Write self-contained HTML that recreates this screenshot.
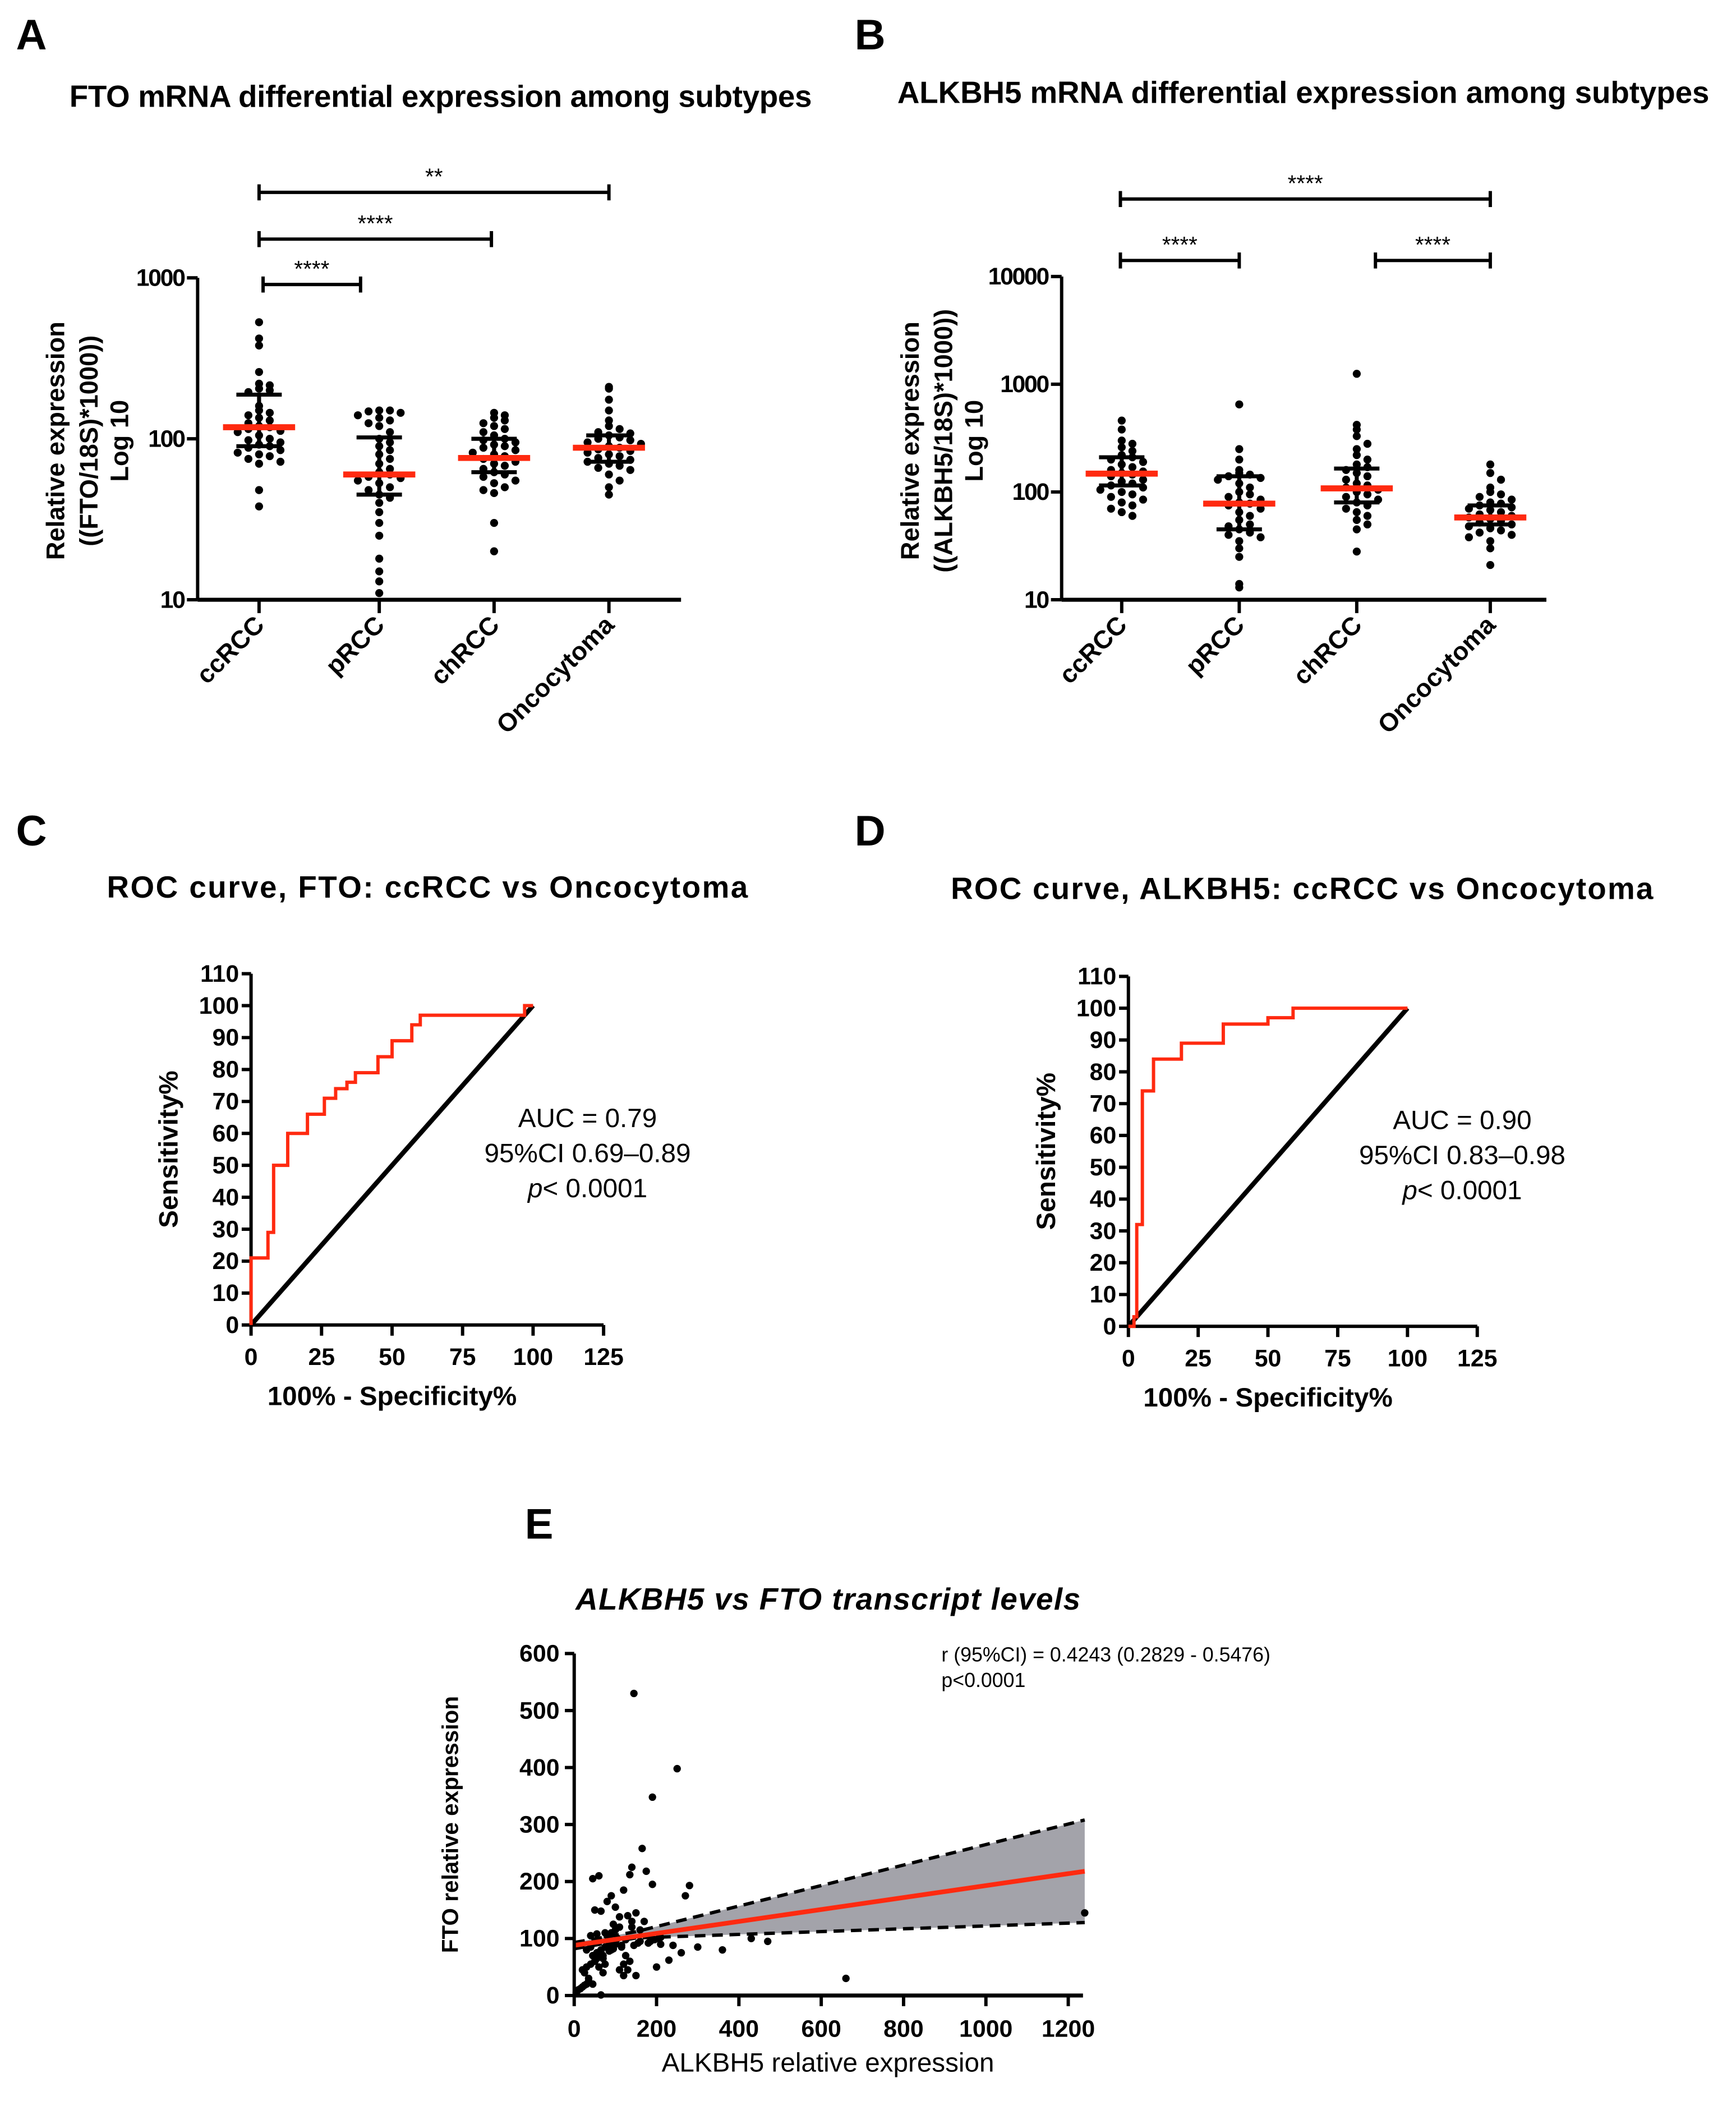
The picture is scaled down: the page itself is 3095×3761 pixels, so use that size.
<!DOCTYPE html>
<html><head><meta charset="utf-8"><style>
html,body{margin:0;padding:0;background:#fff}
svg{display:block}
text{font-family:"Liberation Sans",Arial,sans-serif}
</style></head><body>
<svg id="fig" xmlns="http://www.w3.org/2000/svg" width="3095" height="3761" viewBox="0 0 1300 1579.7">
<rect width="1300" height="1580" fill="#fff"/>
<g font-weight="bold" font-size="32">
<text x="12" y="37">A</text>
<text x="640" y="37">B</text>
<text x="12" y="633">C</text>
<text x="640" y="633">D</text>
<text x="393" y="1152">E</text>
</g>
<g font-weight="bold" font-size="23" text-anchor="middle">
<text x="330" y="80" textLength="556">FTO mRNA differential expression among subtypes</text>
<text x="976" y="77" textLength="608">ALKBH5 mRNA differential expression among subtypes</text>
<text x="320" y="672" textLength="480">ROC curve, FTO: ccRCC vs Oncocytoma</text>
<text x="975" y="673" textLength="526">ROC curve, ALKBH5: ccRCC vs Oncocytoma</text>
<text x="620" y="1205" font-style="italic" textLength="378">ALKBH5 vs FTO transcript levels</text>
</g>
<g id="A"></g><g id="B"></g><g id="C"></g><g id="D"></g><g id="E"></g>
</svg>
<script>
// ---- data ----
const cats=["ccRCC","pRCC","chRCC","Oncocytoma"];
const fto_cc=[530,420,380,260,220,215,205,200,195,160,150,145,140,135,130,125,120,118,115,112,110,105,100,98,95,92,90,88,85,82,80,78,75,72,70,48,38];
const fto_p=[150,150,148,145,140,135,130,125,120,110,100,95,90,85,80,75,70,65,62,60,58,57,55,53,50,48,45,43,40,35,30,25,18,15,13,11];
const fto_ch=[145,140,135,130,125,120,115,110,105,100,98,95,92,90,88,85,82,80,78,75,72,70,68,65,62,60,58,55,53,50,48,46,30,20];
const fto_on=[210,205,175,150,130,120,115,110,108,105,102,100,98,95,93,90,88,86,84,82,80,78,76,74,72,70,68,66,64,60,55,50,45];
const fto_med=[118,60,76,88];
const fto_lo=[90,45,62,72];
const fto_hi=[188,102,100,105];
const alk_cc=[460,380,300,280,260,240,220,210,200,190,180,170,160,155,150,145,140,130,125,120,115,110,105,100,95,90,85,80,75,70,65,60];
const alk_p=[650,250,200,160,150,145,140,135,130,120,110,100,95,90,85,80,78,75,70,65,60,55,50,48,45,42,40,38,35,30,25,14,13];
const alk_ch=[1250,420,380,330,280,250,220,200,180,170,160,150,140,130,120,115,110,105,100,95,90,85,80,75,70,65,60,55,50,45,28];
const alk_on=[180,150,130,110,100,95,90,85,80,78,75,72,70,68,65,62,60,58,56,54,52,50,48,46,44,42,40,38,35,30,21];
const alk_med=[148,78,108,58];
const alk_lo=[115,45,80,50];
const alk_hi=[210,140,165,75];
const rocFtoX=[0,0,6,6,8,8,13,13,20,20,26,26,30,30,34,34,37,37,45,45,50,50,57,57,60,60,97,97,100];
const rocFtoY=[0,21,21,29,29,50,50,60,60,66,66,71,71,74,74,76,76,79,79,84,84,89,89,94,94,97,97,100,100];
const rocAlkX=[0,2,2,3,3,5,5,9,9,19,19,34,34,50,50,59,59,100];
const rocAlkY=[0,0,3,3,32,32,74,74,84,84,89,89,95,95,97,97,100,100];
const scX=[145,250,190,165,140,175,135,190,280,270,60,45,90,50,65,120,80,100,150,130,110,170,95,140,75,55,40,85,105,125,160,180,210,240,300,360,430,470,1240,660,30,20,10,5,15,25,35,70,60,50,45,55,65,75,85,95,105,115,125,135,80,90,100,110,40,30,60,70,120,130,150,200,230,260,160,140,100,90,70,50,40,30,20,25,35,45,55,65,85,95,115,145,155,185,195,205,210,110,120,75,65];
const scY=[530,398,348,258,225,218,212,195,193,175,210,205,175,150,148,185,165,155,145,140,138,130,125,120,110,108,105,102,100,98,95,92,90,88,85,80,100,95,145,30,20,15,10,5,12,18,25,40,50,60,70,75,80,85,90,95,100,88,70,60,105,110,115,120,85,80,72,65,55,45,35,50,62,75,115,130,90,80,70,60,55,50,45,40,30,20,65,75,78,82,85,88,92,95,98,100,102,45,35,55,1];
const fitX=[0,1240];
const fitY=[88,218];
const ciX=[0,150,1240];
const ciUp=[93,112,308];
const ciLo=[82,101,128];

const NS="http://www.w3.org/2000/svg";
function mk(parent,tag,attrs,txt){const e=document.createElementNS(NS,tag);for(const k in attrs)e.setAttribute(k,attrs[k]);if(txt!==undefined)e.textContent=txt;parent.appendChild(e);return e;}
function line(p,x1,y1,x2,y2,w,c,name,dash){const e=mk(p,"line",{x1:x1,y1:y1,x2:x2,y2:y2,stroke:c||"#000","stroke-width":w||2.5});if(dash)e.setAttribute("stroke-dasharray",dash);


return e;}
function txt(p,x,y,s,size,anchor,name,extra){const e=mk(p,"text",Object.assign({x:x,y:y,"font-size":size,"text-anchor":anchor||"middle","font-weight":"bold"},extra||{}),s);


return e;}

// ---- strip plots ----
function strip(g,ax,x0,x1,yTop,yBot,yfn,ticks,groups,med,lo,hi,catX,ylab,sig){
  line(g,ax,yTop,ax,yBot,2.5,"#000","y-axis");
  line(g,ax,yBot,x1,yBot,3,"#000","x-axis");
  ticks.forEach(t=>{const y=yfn(t);line(g,ax-8,y,ax,y,2.5,"#000","y-tick");txt(g,ax-10,y+6,String(t),18,"end","y-tick-label",{"letter-spacing":"-1"});});
  catX.forEach((cx,i)=>{line(g,cx,yBot,cx,yBot+10,2.5,"#000","x-tick");
    txt(g,0,0,cats[i],19,"end","x-tick-label",{transform:`translate(${cx+5},${yBot+20}) rotate(-45)`});});
  ylab.forEach((l,i)=>txt(g,0,0,l[0],19,"middle","y-axis-title",{transform:`translate(${l[1]},330) rotate(-90)`}));
  groups.forEach((arr,gi)=>{const cx=catX[gi];const rows={};
    arr.forEach((v,i)=>{const y=yfn(v);const key=Math.round(y/7);rows[key]=(rows[key]||0)+1;const n=rows[key]-1;
      const off=(n%2?1:-1)*Math.ceil(n/2)*8;
      const c=mk(g,"circle",{cx:cx+off,cy:y,r:3,fill:"#000"});
      
      });
    line(g,cx,yfn(lo[gi]),cx,yfn(hi[gi]),3,"#000","error-bar");
    line(g,cx-17,yfn(lo[gi]),cx+17,yfn(lo[gi]),3,"#000","error-cap-low");
    line(g,cx-17,yfn(hi[gi]),cx+17,yfn(hi[gi]),3,"#000","error-cap-high");
    line(g,cx-27,yfn(med[gi]),cx+27,yfn(med[gi]),4.5,"#ff2a10","median-line");
  });
  sig.forEach(s=>{line(g,s[0],s[2],s[1],s[2],2.5,"#000","significance-bar");line(g,s[0],s[2]-6,s[0],s[2]+6,2.5,"#000","significance-cap");line(g,s[1],s[2]-6,s[1],s[2]+6,2.5,"#000","significance-cap");
    txt(g,(s[0]+s[1])/2,s[2]-6,s[3],17,"middle","significance-stars",{"font-weight":"normal"});});
}
const gA=document.getElementById("A");
const yA=v=>449-(Math.log10(v)-1)*120.5;
strip(gA,148,148,510,208,449,yA,[10,100,1000],[fto_cc,fto_p,fto_ch,fto_on],fto_med,fto_lo,fto_hi,[194,284,370,456],
  [["Relative expression",48],["((FTO/18S)*1000))",73],["Log 10",96]],
  [[194,456,144,"**"],[194,368,179,"****"],[197,270,213,"****"]]);
const gB=document.getElementById("B");
const yB=v=>449-(Math.log10(v)-1)*80.67;
strip(gB,795,795,1158,207,449,yB,[10,100,1000,10000],[alk_cc,alk_p,alk_ch,alk_on],alk_med,alk_lo,alk_hi,[840,928,1016,1116],
  [["Relative expression",688],["((ALKBH5/18S)*1000))",713],["Log 10",736]],
  [[839,1116,149,"****"],[839,928,195,"****"],[1030,1116,195,"****"]]);

// ---- ROC ----
function roc(g,x0,y0,kx,ky,X,Y,auc,ci,tx,ylx){
  const xf=v=>x0+v*kx, yf=v=>y0-v*ky;
  line(g,x0,yf(110),x0,y0,2.5,"#000","y-axis");
  line(g,x0,y0,xf(125),y0,2.5,"#000","x-axis");
  for(let t=0;t<=110;t+=10){line(g,x0-7,yf(t),x0,yf(t),2.5,"#000","y-tick");txt(g,x0-9,yf(t)+6,String(t),18,"end","y-tick-label");}
  for(let t=0;t<=125;t+=25){line(g,xf(t),y0,xf(t),y0+8,2.5,"#000","x-tick");txt(g,xf(t),y0+30,String(t),18,"middle","x-tick-label");}
  txt(g,xf(50),y0+60,"100% - Specificity%",20,"middle","x-axis-title");
  txt(g,0,0,"Sensitivity%",20,"middle","y-axis-title",{transform:`translate(${ylx},${yf(55)}) rotate(-90)`});
  line(g,xf(0),yf(0),xf(100),yf(100),3.5,"#000","reference-diagonal");
  const p=mk(g,"polyline",{points:X.map((v,i)=>xf(v)+","+yf(Y[i])).join(" "),fill:"none",stroke:"#ff2a10","stroke-width":2.5});
  
  
  txt(g,tx,yf(62),"AUC = "+auc,20,"middle","auc-label",{"font-weight":"normal"});
  txt(g,tx,yf(51),"95%CI "+ci,20,"middle","ci-label",{"font-weight":"normal"});
  const pt=txt(g,tx,yf(40),"",20,"middle","p-value-label",{"font-weight":"normal"});
  mk(pt,"tspan",{"font-style":"italic"},"p");mk(pt,"tspan",{},"< 0.0001");
}
roc(document.getElementById("C"),188,992,2.112,2.391,rocFtoX,rocFtoY,"0.79","0.69–0.89",440,133);
roc(document.getElementById("D"),845,993,2.09,2.382,rocAlkX,rocAlkY,"0.90","0.83–0.98",1095,790);

// ---- scatter E ----
const gE=document.getElementById("E");
const xE=v=>430+v*0.3083, yE=v=>1494-v*0.4267;
const band=mk(gE,"polygon",{points:ciX.map((v,i)=>xE(v)+","+yE(ciUp[i])).concat(ciX.slice().reverse().map((v,i)=>xE(v)+","+yE(ciLo[ciX.length-1-i]))).join(" "),fill:"#a3a3aa"});


const up=mk(gE,"polyline",{points:ciX.map((v,i)=>xE(v)+","+yE(ciUp[i])).join(" "),fill:"none",stroke:"#000","stroke-width":2.5,"stroke-dasharray":"8 5"});


const lo=mk(gE,"polyline",{points:ciX.map((v,i)=>xE(v)+","+yE(ciLo[i])).join(" "),fill:"none",stroke:"#000","stroke-width":2.5,"stroke-dasharray":"8 5"});


scX.forEach((v,i)=>{const c=mk(gE,"circle",{cx:xE(v),cy:yE(scY[i]),r:2.8,fill:"#000"});
  
  });
line(gE,xE(fitX[0]),yE(fitY[0]),xE(fitX[1]),yE(fitY[1]),3.5,"#ff2a10","regression-line");
line(gE,430,yE(600),430,1494,2.5,"#000","y-axis");
line(gE,430,1494,811,1494,3,"#000","x-axis");
for(let t=0;t<=600;t+=100){line(gE,423,yE(t),430,yE(t),2.5,"#000","y-tick");txt(gE,419,yE(t)+6,String(t),18,"end","y-tick-label");}
for(let t=0;t<=1200;t+=200){line(gE,xE(t),1494,xE(t),1502,2.5,"#000","x-tick");txt(gE,xE(t),1525,String(t),18,"middle","x-tick-label");}
txt(gE,620,1551,"ALKBH5 relative expression",20,"middle","x-axis-title",{"font-weight":"normal"});
txt(gE,0,0,"FTO relative expression",17,"middle","y-axis-title",{transform:"translate(343,1366) rotate(-90)"});
txt(gE,705,1244,"r (95%CI) = 0.4243 (0.2829 - 0.5476)",15,"start","correlation-label",{"font-weight":"normal"});
txt(gE,705,1263,"p<0.0001",15,"start","p-value-label",{"font-weight":"normal"});
</script>
</body></html>
